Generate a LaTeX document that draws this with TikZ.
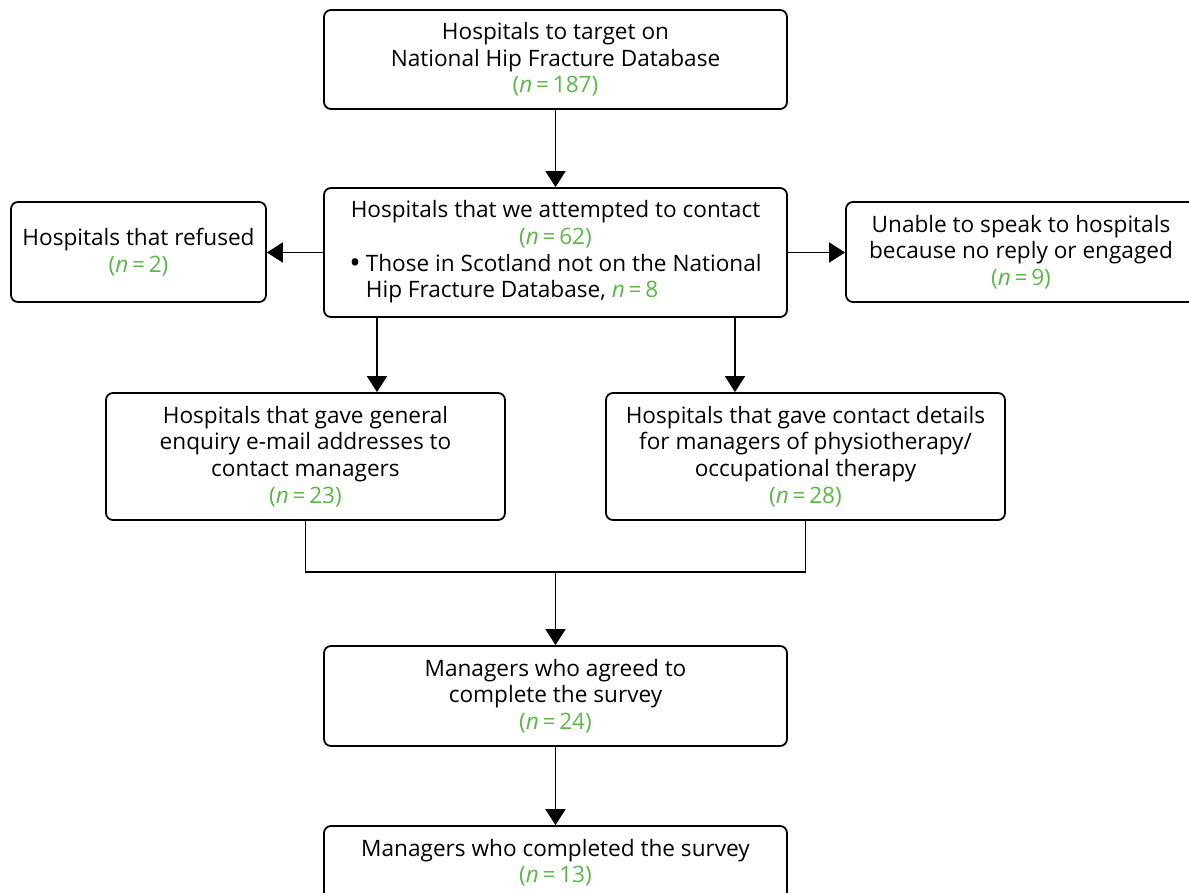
\documentclass[tikz,border=0pt]{standalone}
\usepackage{fontspec}
\usepackage{graphicx}
\setmainfont{Open Sans}
\usetikzlibrary{arrows.meta}
\definecolor{ngreen}{RGB}{92,183,72}
\newcommand\nval[1]{\textcolor{ngreen}{(\textit{n}\,=\,#1)}}
\begin{document}
\begin{tikzpicture}[x=1pt,y=-1pt,
  box/.style={draw, line width=1.8pt, rounded corners=7pt, align=center, inner sep=0pt,
    font=\fontsize{22.6}{26.6}\selectfont},
  arr/.style={line width=1.8pt, -{Triangle[length=16pt,width=20pt]}},
  link/.style={line width=1.8pt}]
\useasboundingbox (0,0) rectangle (1189,893);
\clip (0,0) rectangle (1189,893);
\node[box, minimum width=463pt, minimum height=99pt] (top) at (555.5,59.5)
  {Hospitals to target on\\National Hip Fracture Database\\\nval{187}};
\node[box, minimum width=463pt, minimum height=129pt] (mid) at (555.5,252.5)
  {\begin{tabular}{@{}l@{\hspace{5pt}}l@{}}
   \multicolumn{2}{@{}c@{}}{Hospitals that we attempted to contact}\\
   \multicolumn{2}{@{}c@{}}{\nval{62}}\\
   \raisebox{-2pt}{\scalebox{1.35}{\textbullet}} & Those in Scotland not on the National\\
   & Hip Fracture Database, \textcolor{ngreen}{\textit{n}\,=\,8}
   \end{tabular}};
\node[box, minimum width=255pt, minimum height=100pt] (left) at (138.5,252)
  {Hospitals that refused\\\nval{2}};
\node[box, minimum width=350pt, minimum height=100pt] (right) at (1021,252)
  {Unable to speak to hospitals\\because no reply or engaged\\\nval{9}};
\node[box, minimum width=399pt, minimum height=127pt] (lowL) at (305.5,456.5)
  {Hospitals that gave general\\enquiry e-mail addresses to\\contact managers\\\nval{23}};
\node[box, minimum width=399pt, minimum height=127pt] (lowR) at (805.5,456.5)
  {Hospitals that gave contact details\\for managers of physiotherapy/\\occupational therapy\\\nval{28}};
\node[box, minimum width=463pt, minimum height=100pt] (agree) at (555.5,696)
  {Managers who agreed to\\complete the survey\\\nval{24}};
\node[box, minimum width=463pt, minimum height=73pt] (done) at (555.5,862.5)
  {Managers who completed the survey\\\nval{13}};
\coordinate (join) at (555.5,572);
\coordinate (dl) at (377,0);
\coordinate (dr) at (735,0);
\draw[arr] (top) -- (mid);
\draw[arr] (mid.west) -- (mid.west -| left.east);
\draw[arr] (mid.east) -- (mid.east -| right.west);
\draw[arr] (mid.south -| dl) -- (lowL.north -| dl);
\draw[arr] (mid.south -| dr) -- (lowR.north -| dr);
\draw[link] (lowL.south) |- (join) -| (lowR.south);
\draw[arr] (join) -- (agree.north);
\draw[arr] (agree) -- (done);
\end{tikzpicture}
\end{document}
